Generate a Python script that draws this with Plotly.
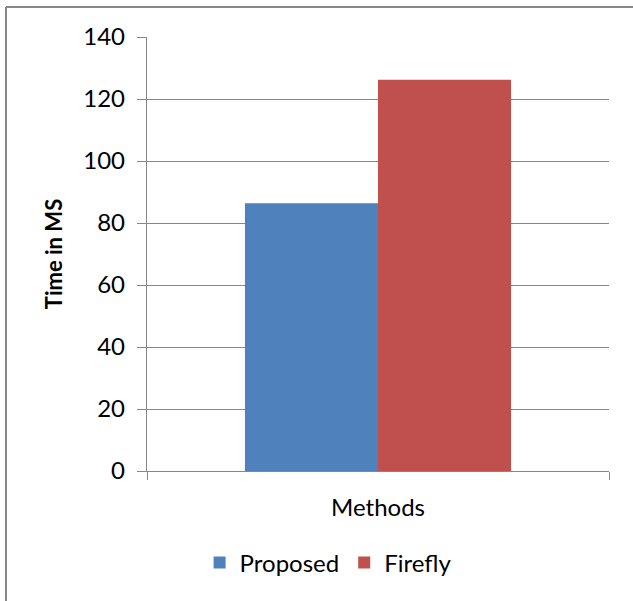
import plotly.graph_objects as go

# Chart data
categories = ["Methods"]
series_names = ["Proposed", "Firefly"]
proposed_values = [86.4]
firefly_values = [126.2]
series_colors = ["#4F81BD", "#C0504D"]

y_tick_values = [0, 20, 40, 60, 80, 100, 120, 140]

W, H = 633, 601
ML, MR, MT, MB = 147, 24, 37, 130

FONT = "Lato"
AXIS_GREY = "#878787"

fig = go.Figure()
for name, vals, col in zip(series_names, [proposed_values, firefly_values], series_colors):
    fig.add_trace(go.Bar(
        x=categories, y=vals, name=name,
        marker=dict(color=col, line=dict(width=0)),
    ))

fig.update_layout(
    width=W, height=H,
    margin=dict(l=ML, r=MR, t=MT, b=MB, pad=0),
    paper_bgcolor="white", plot_bgcolor="white",
    barmode="group", bargap=0.424, bargroupgap=0,
    font=dict(family=FONT, size=24, color="#000000"),
    showlegend=True,
    legend=dict(
        orientation="h", x=0.392, xanchor="center", y=-0.212, yanchor="middle",
        font=dict(family=FONT, size=24), itemwidth=30, traceorder="normal",
    ),
)

fig.update_yaxes(
    range=[0, 140], tickvals=y_tick_values,
    showgrid=True, gridcolor=AXIS_GREY, gridwidth=1.4,
    showline=True, linecolor=AXIS_GREY, linewidth=1.4,
    ticks="outside", ticklen=9, tickcolor=AXIS_GREY, tickwidth=1.4,
    ticklabelstandoff=7, zeroline=False,
    title=dict(text="<b>Time in MS</b>", font=dict(family=FONT, size=22), standoff=14),
)
fig.update_xaxes(
    showgrid=False,
    showline=True, linecolor=AXIS_GREY, linewidth=1.4,
    ticks="outside", tickson="boundaries", ticklen=8, tickcolor=AXIS_GREY, tickwidth=1.4,
    ticklabelstandoff=15,
)

# Outer chart frame (top and left edges)
pw = W - ML - MR
ph = H - MT - MB
def px_x(p):
    return (p - ML) / pw
def px_y(p):
    return 1 - (p - MT) / ph

frame = dict(type="line", xref="paper", yref="paper", line=dict(color=AXIS_GREY, width=2), layer="above")
fig.add_shape(**frame, x0=px_x(6), y0=px_y(7), x1=px_x(W + 2), y1=px_y(7))
fig.add_shape(**frame, x0=px_x(6), y0=px_y(7), x1=px_x(6), y1=px_y(H + 2))

fig.write_html("out.html")
